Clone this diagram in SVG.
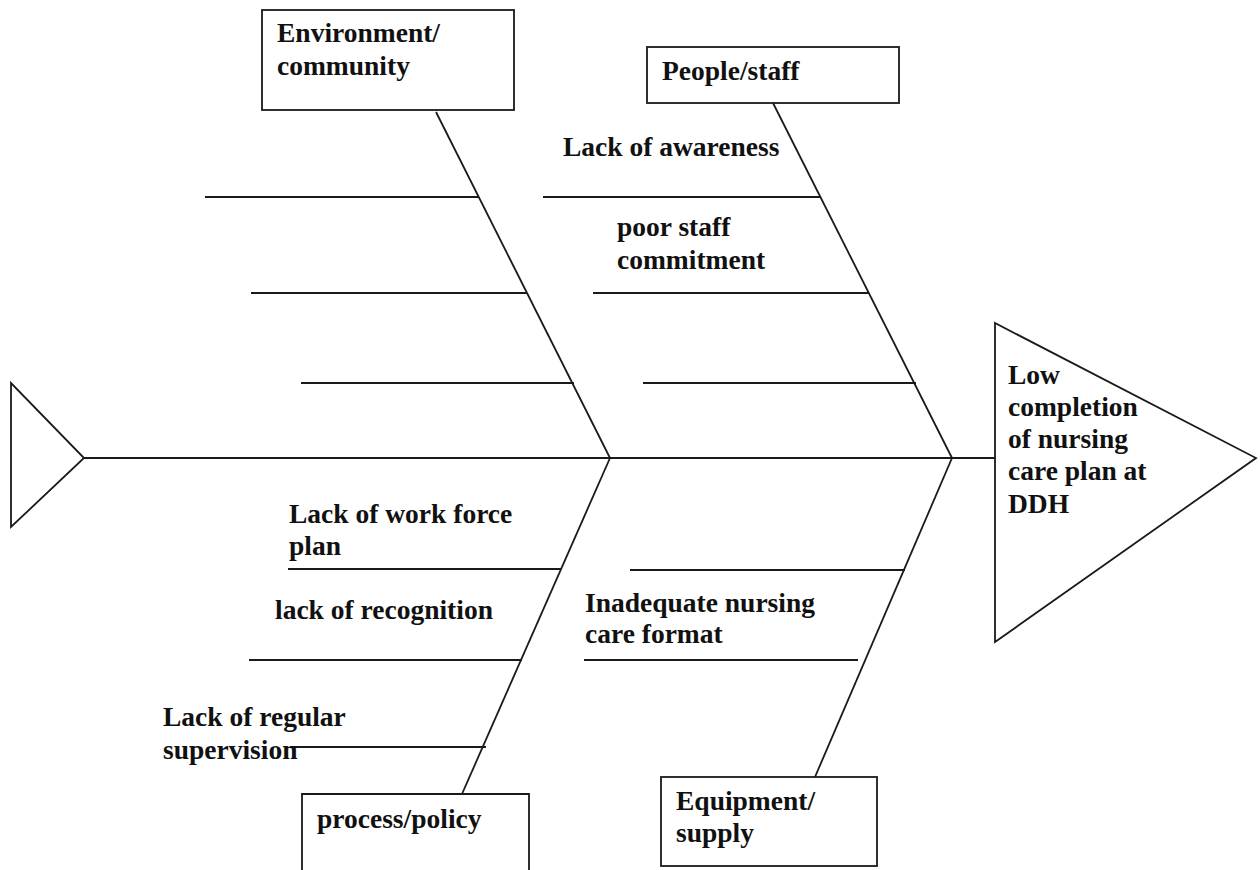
<svg xmlns="http://www.w3.org/2000/svg" width="1260" height="870" viewBox="0 0 1260 870">
  <style>
    .ln { stroke: #1a1a1a; stroke-width: 1.8; fill: none; }
    .box { stroke: #1a1a1a; stroke-width: 1.8; fill: #ffffff; }
    .t { font-family: "Liberation Serif", "Times New Roman", serif; font-weight: bold; font-size: 27.5px; fill: #111111; }
  </style>
  <rect width="1260" height="870" fill="#ffffff"/>

  <!-- tail and spine, bones, ribs -->
  <g id="connectors">
    <polygon class="box" points="11,383 11,527 84,458"/>
    <line class="ln" x1="84" y1="458" x2="995" y2="458"/>

    <!-- Environment/community bone -->
    <line class="ln" x1="436" y1="112" x2="610" y2="458"/>
    <line class="ln" x1="205" y1="197" x2="479" y2="197"/>
    <line class="ln" x1="251" y1="293" x2="527" y2="293"/>
    <line class="ln" x1="301" y1="383" x2="574" y2="383"/>

    <!-- People/staff bone -->
    <line class="ln" x1="773" y1="103" x2="952" y2="458"/>
    <line class="ln" x1="543" y1="197" x2="820" y2="197"/>
    <line class="ln" x1="593" y1="293" x2="869" y2="293"/>
    <line class="ln" x1="643" y1="383" x2="916" y2="383"/>

    <!-- process/policy bone -->
    <line class="ln" x1="610" y1="458" x2="462" y2="794"/>
    <line class="ln" x1="288" y1="569" x2="561" y2="569"/>
    <line class="ln" x1="249" y1="660" x2="522" y2="660"/>
    <line class="ln" x1="290" y1="747" x2="486" y2="747"/>

    <!-- Equipment/supply bone -->
    <line class="ln" x1="952" y1="458" x2="815" y2="777"/>
    <line class="ln" x1="630" y1="570" x2="905" y2="570"/>
    <line class="ln" x1="584" y1="660" x2="858" y2="660"/>
  </g>

  <!-- head: the problem -->
  <g id="head">
    <polygon class="box" points="995,323 995,642 1256,458"/>
    <text class="t" x="1008" y="384">Low</text>
    <text class="t" x="1008" y="416">completion</text>
    <text class="t" x="1008" y="448">of nursing</text>
    <text class="t" x="1008" y="480">care plan at</text>
    <text class="t" x="1008" y="513">DDH</text>
  </g>

  <g id="environment">
    <rect class="box" x="262" y="10" width="252" height="100"/>
    <text class="t" x="277" y="42">Environment/</text>
    <text class="t" x="277" y="75">community</text>
  </g>

  <g id="people">
    <rect class="box" x="647" y="47" width="252" height="56"/>
    <text class="t" x="662" y="80">People/staff</text>
  </g>

  <g id="process">
    <path class="ln" d="M302,872 V794 H529 V872"/>
    <text class="t" x="317" y="828">process/policy</text>
  </g>

  <g id="equipment">
    <rect class="box" x="661" y="777" width="216" height="89"/>
    <text class="t" x="676" y="810">Equipment/</text>
    <text class="t" x="676" y="842">supply</text>
  </g>

  <!-- cause labels -->
  <g id="cause-awareness">
    <text class="t" x="563" y="156">Lack of awareness</text>
  </g>
  <g id="cause-commitment">
    <text class="t" x="617" y="236">poor staff</text>
    <text class="t" x="617" y="269">commitment</text>
  </g>
  <g id="cause-workforce">
    <text class="t" x="289" y="523">Lack of work force</text>
    <text class="t" x="289" y="555">plan</text>
  </g>
  <g id="cause-recognition">
    <text class="t" x="275" y="619">lack of recognition</text>
  </g>
  <g id="cause-supervision">
    <text class="t" x="163" y="726">Lack of regular</text>
    <text class="t" x="163" y="759">supervision</text>
  </g>
  <g id="cause-format">
    <text class="t" x="585" y="612">Inadequate nursing</text>
    <text class="t" x="585" y="643">care format</text>
  </g>
</svg>
